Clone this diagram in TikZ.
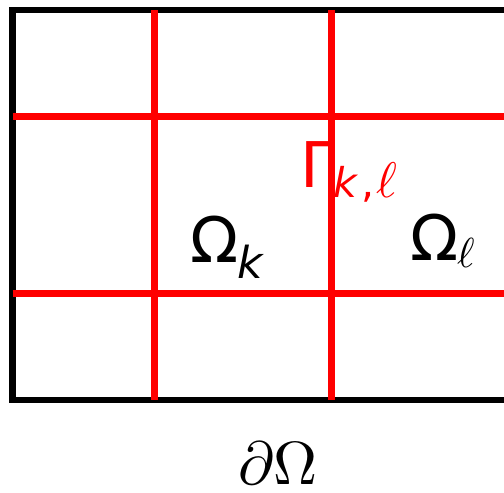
\documentclass[tikz,border=0pt]{standalone}
\usepackage{graphicx}
\usepackage[no-math]{fontspec}
\newfontfamily\dvs{DejaVu Sans}
\tikzset{
  frame/.style={draw=black, line width=6.7pt},
  grid line/.style={draw=red, line width=6.7pt},
  lbl/.style={inner sep=0pt, anchor=base west},
}
\begin{document}
\begin{tikzpicture}[x=1pt,y=-1pt]
\useasboundingbox (0,0) rectangle (504,493);
\clip (0,0) rectangle (504,493);
% outer domain
\draw[frame] (620,10) -- (12.5,10) -- (12.5,400) -- (620,400);
% subdomain grid
\coordinate (v1t) at (154.5,10);  \coordinate (v1b) at (154.5,400);
\coordinate (v2t) at (331.5,10);  \coordinate (v2b) at (331.5,400);
\coordinate (h1l) at (12.5,116.5); \coordinate (h1r) at (620,116.5);
\coordinate (h2l) at (12.5,293.5); \coordinate (h2r) at (620,293.5);
\draw[grid line] (v1t) -- (v1b);
\draw[grid line] (v2t) -- (v2b);
\draw[grid line] (h1l) -- (h1r);
\draw[grid line] (h2l) -- (h2r);
% labels
\node[lbl] (ok) at (190,262) {\dvs\fontsize{63}{70}\selectfont Ω};
\node[lbl] (oksub) at (237,278) {\dvs\itshape\fontsize{44}{50}\selectfont k};
\node[lbl] (ol) at (410,260) {\dvs\fontsize{63}{70}\selectfont Ω};
\node[lbl] (olsub) at (457,267) {\scalebox{4.2}{$\ell$}};
\node[lbl,text=red] (g) at (300,187) {\dvs\fontsize{63}{70}\selectfont Γ};
\node[lbl,text=red] (gsub) at (333,197) {\dvs\itshape\fontsize{41}{50}\selectfont k};
\node[lbl,text=red] (gcomma) at (361,197) {\dvs\fontsize{41}{50}\selectfont ,};
\node[lbl,text=red] (gsub2) at (376,197) {\scalebox{5}{$\ell$}};
\node[lbl] (bd) at (238,484) {\scalebox{6.1}{$\partial\Omega$}};
\end{tikzpicture}
\end{document}
